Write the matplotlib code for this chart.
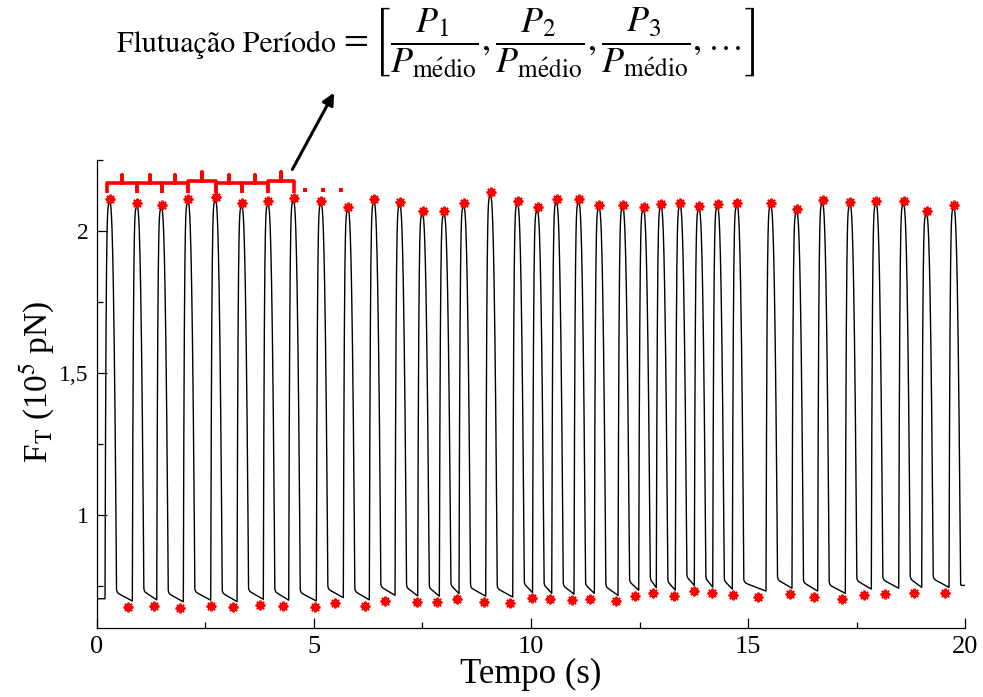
import numpy as np
import matplotlib
matplotlib.use("Agg")
import matplotlib.pyplot as plt
from matplotlib.ticker import FixedLocator, FuncFormatter

plt.rcParams["font.family"] = ["Liberation Serif", "DejaVu Serif"]
plt.rcParams["mathtext.fontset"] = "stix"

# peak markers (time in s, force in 1e5 pN)
peak_t = [0.306, 0.935, 1.497, 2.109, 2.740, 3.346, 3.951, 4.536, 5.172, 5.793,
          6.392, 6.984, 7.506, 8.004, 8.457, 9.072, 9.694, 10.150, 10.592, 11.105,
          11.573, 12.118, 12.595, 13.000, 13.438, 13.875, 14.299, 14.750, 15.526, 16.124,
          16.716, 17.352, 17.951, 18.582, 19.111, 19.740]
peak_v = [2.112, 2.098, 2.092, 2.112, 2.119, 2.098, 2.105, 2.117, 2.107, 2.086,
          2.112, 2.102, 2.070, 2.070, 2.098, 2.136, 2.107, 2.083, 2.112, 2.112,
          2.093, 2.093, 2.086, 2.096, 2.100, 2.088, 2.096, 2.100, 2.100, 2.079,
          2.109, 2.103, 2.106, 2.106, 2.070, 2.093]

# trough markers
trough_t = [0.728, 1.326, 1.918, 2.625, 3.131, 3.760, 4.297, 5.033, 5.487, 6.178,
            6.638, 7.368, 7.843, 8.289, 8.918, 9.517, 10.016, 10.437, 10.951, 11.358,
            11.950, 12.402, 12.816, 13.293, 13.746, 14.168, 14.644, 15.220, 15.964, 16.510,
            17.154, 17.661, 18.158, 18.826, 19.533]
trough_v = [0.677, 0.681, 0.674, 0.680, 0.675, 0.683, 0.680, 0.677, 0.689, 0.681,
            0.697, 0.695, 0.694, 0.703, 0.694, 0.691, 0.707, 0.704, 0.701, 0.704,
            0.697, 0.715, 0.724, 0.715, 0.732, 0.726, 0.719, 0.712, 0.722, 0.712,
            0.704, 0.719, 0.722, 0.725, 0.725]

start_level = 0.705
end_level = 0.752

# brace over the first periods
brace_h = [2.169, 2.169, 2.169, 2.177, 2.169, 2.169, 2.177]
dots_t = [4.80, 5.22, 5.62]
dots_v = [2.145, 2.145, 2.145]


def build_trace():
    ts, ys = [], []
    rise, fall = 0.115, 0.15
    base = start_level
    seg = np.linspace(0, peak_t[0] - rise, 60)
    ts.append(seg)
    ys.append(np.full_like(seg, base))
    for i, (tp, pv) in enumerate(zip(peak_t, peak_v)):
        top = pv - 0.015
        u = np.linspace(0, 1, 40)
        ts.append(tp - rise + rise * u)
        ys.append(base + (top - base) * (1 - (1 - u) ** 5))
        if i < len(trough_v):
            hi = trough_v[i] + 0.05
            lo = trough_v[i] + 0.02
        else:
            hi = lo = end_level
        ts.append(tp + fall * u)
        ys.append(hi + 0.01 + (top - hi - 0.01) * (1 - u ** 2.3))
        t_end = peak_t[i + 1] - rise if i + 1 < len(peak_t) else 20.0
        w = np.linspace(0, 1, 80)
        ts.append(tp + fall + (t_end - tp - fall) * w)
        ys.append(lo + (hi - lo) * (1 - w) + 0.01 * np.exp(-25 * w))
        base = ys[-1][-1]
    return np.concatenate(ts), np.concatenate(ys)


fig = plt.figure(figsize=(9.83, 6.97), dpi=100)
ax = fig.add_axes([0.0984, 0.099, 0.8836, 0.6714])

tt, yy = build_trace()
ax.plot(tt, yy, color="black", lw=1.0, zorder=2)

ax.plot(peak_t, peak_v, ls="none", marker=(8, 2, 0), ms=7, mew=1.4, color="#ff0000", zorder=3)
ax.plot(trough_t, trough_v, ls="none", marker=(8, 2, 0), ms=7, mew=1.4, color="#ff0000", zorder=3)

# braces between consecutive peaks
leg_bottom = 2.135
for k, h in enumerate(brace_h):
    x0, x1 = peak_t[k], peak_t[k + 1]
    if k == 0:
        x0 = peak_t[0] - 0.06
    xm = (x0 + x1) / 2
    ax.plot([x0, x0, xm, xm, xm, x1, x1],
            [leg_bottom, h, h, h + 0.03, h, h, leg_bottom],
            color="#ff0000", lw=2.6, solid_joinstyle="round", solid_capstyle="butt",
            clip_on=False, zorder=4)
ax.plot(dots_t, dots_v, ls="none", marker="s", ms=2.2, mew=0, color="#ff0000", clip_on=False)

ax.annotate("", xy=(0.3398, 0.867), xycoords="figure fraction",
            xytext=(4.505, 2.217), textcoords="data",
            arrowprops=dict(arrowstyle="-|>,head_length=0.7,head_width=0.35",
                            color="black", lw=2.2, shrinkA=0, shrinkB=0),
            annotation_clip=False)

fig.text(117 / 983, 1 - 52 / 697, "Flutuação Período",
         fontsize=21.5, ha="left", va="baseline", family="STIXGeneral")
fig.text(338 / 983, 1 - 42 / 697,
         r"$= \left[\dfrac{P_1}{P_{\mathrm{m\acute{e}dio}}},"
         r"\dfrac{P_2}{P_{\mathrm{m\acute{e}dio}}},\dfrac{P_3}{P_{\mathrm{m\acute{e}dio}}},\ldots\right]$",
         fontsize=26, ha="left", va="center")

ax.set_xlim(0, 20)
ax.set_ylim(0.602, 2.25)
ax.spines["top"].set_visible(False)
ax.spines["right"].set_visible(False)
for s in ("left", "bottom"):
    ax.spines[s].set_linewidth(0.9)

ax.xaxis.set_major_locator(FixedLocator([0, 5, 10, 15, 20]))
ax.xaxis.set_minor_locator(FixedLocator([2.5, 7.5, 12.5, 17.5]))
ax.yaxis.set_major_locator(FixedLocator([1, 1.5, 2]))
ax.yaxis.set_minor_locator(FixedLocator([0.75, 1.25, 1.75, 2.25]))
ax.yaxis.set_major_formatter(FuncFormatter(lambda v, p: f"{v:g}".replace(".", ",")))
ax.tick_params(which="both", direction="in", width=0.9)
ax.tick_params(which="major", length=7)
ax.tick_params(which="minor", length=4)
ax.tick_params(axis="x", labelsize=19, pad=6)
ax.tick_params(axis="y", labelsize=17, pad=6)

ax.set_xlabel("Tempo (s)", fontsize=25, labelpad=0)
ax.set_ylabel(r"F$_\mathrm{T}$ (10$^5$ pN)", fontsize=24)
ax.yaxis.set_label_coords(-0.046, 0.525)

fig.savefig("out.png", dpi=100)
